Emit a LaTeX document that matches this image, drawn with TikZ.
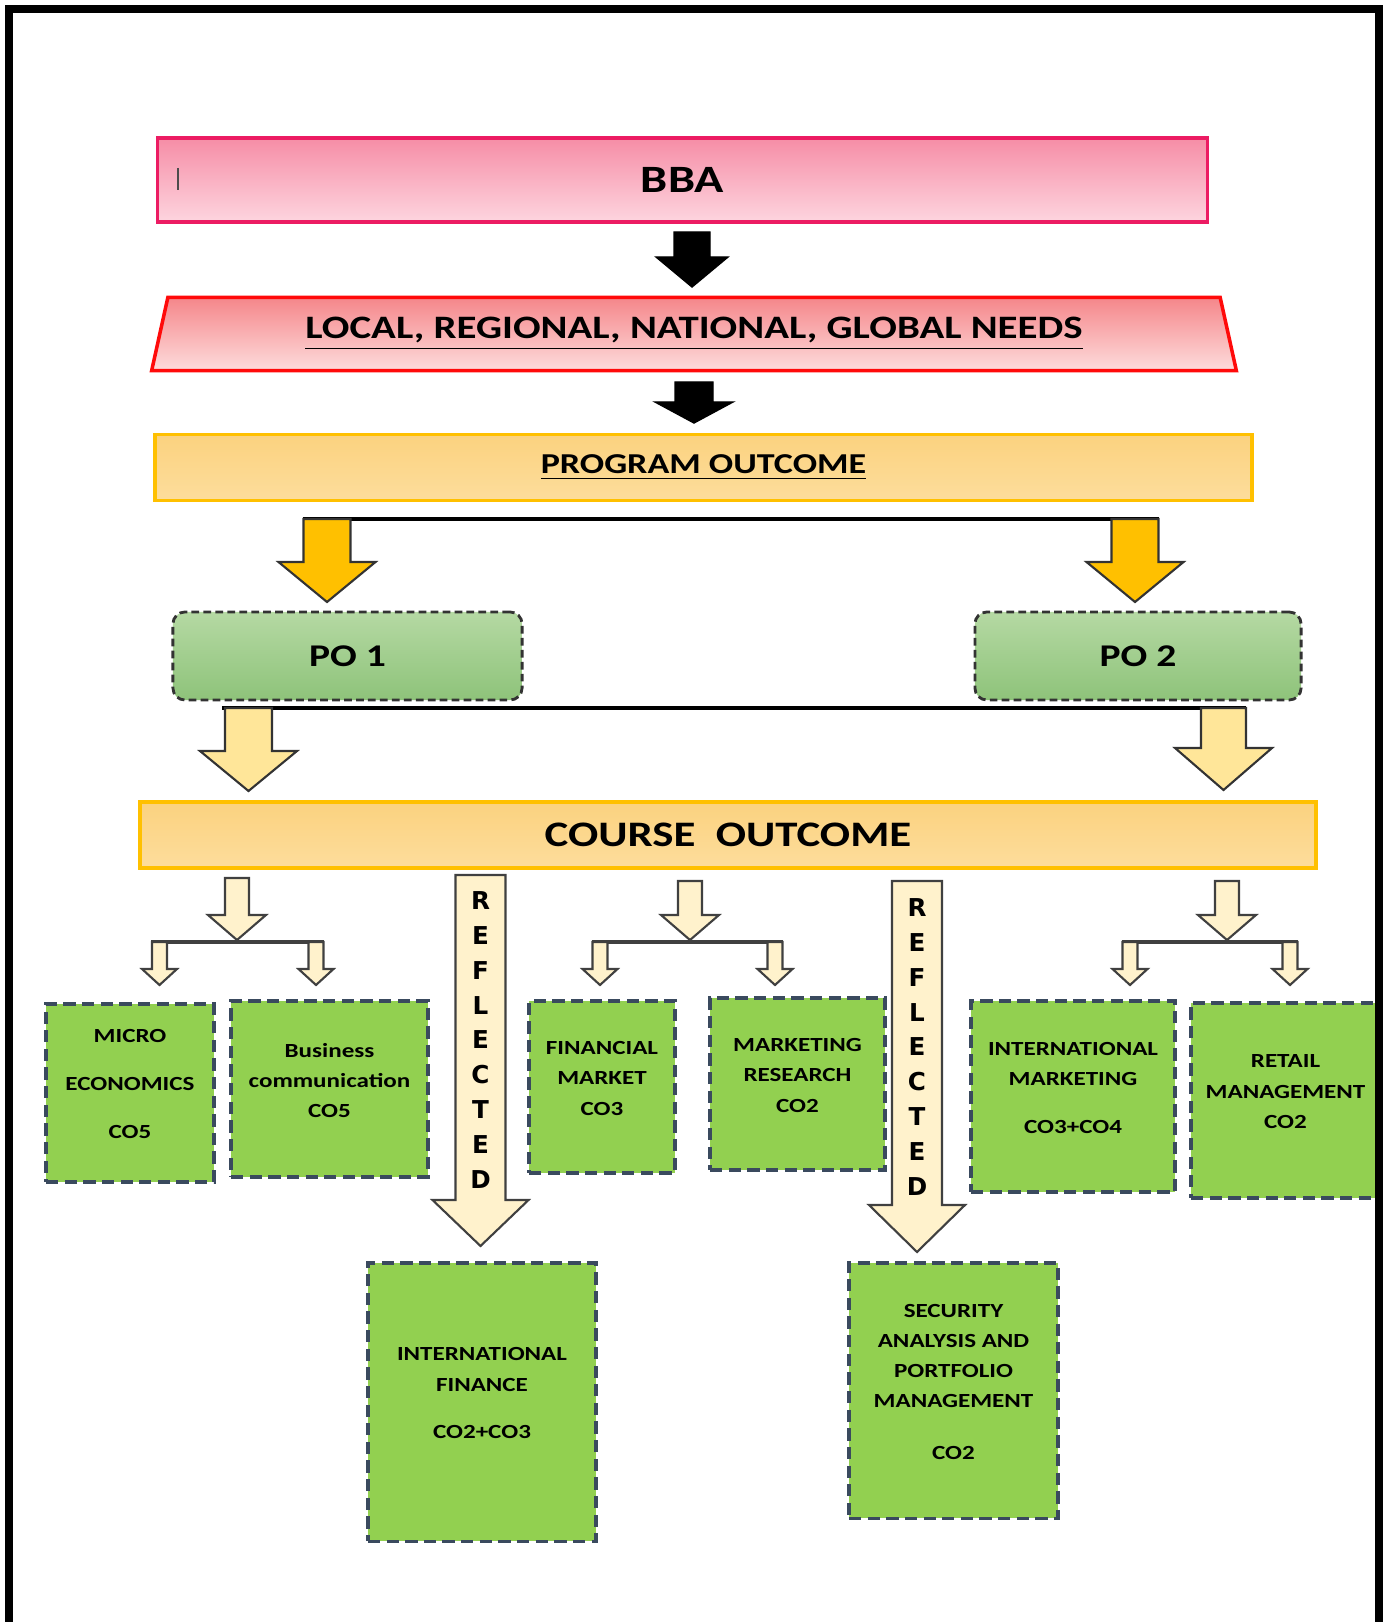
\documentclass[tikz,border=0pt]{standalone}
\usepackage{fontspec}
\setmainfont{Carlito}[FakeStretch=1.25]
\newfontfamily\reflfont{DejaVu Sans}
\usetikzlibrary{shapes.geometric,calc,positioning}

\definecolor{bbaline}{HTML}{EC1C63}
\definecolor{bbatop}{HTML}{F68DA6}
\definecolor{bbabot}{HTML}{FDD5DF}
\definecolor{needline}{HTML}{FF0A0A}
\definecolor{needtop}{HTML}{F5868A}
\definecolor{needbot}{HTML}{FDDCDC}
\definecolor{outtop}{HTML}{FBD27F}
\definecolor{outbot}{HTML}{FDDD9C}
\definecolor{gold}{HTML}{FFC000}
\definecolor{pale}{HTML}{FFE699}
\definecolor{cream}{HTML}{FFF2CC}
\definecolor{potop}{HTML}{B5D9A3}
\definecolor{pobot}{HTML}{8EC37A}
\definecolor{leaf}{HTML}{92D050}
\definecolor{leafline}{HTML}{3A4A5E}

% flecha de bloque hacia abajo: estilo, inicio, punta, medio tallo, media cabeza, largo cabeza
\newcommand\blockarrow[6]{%
  \filldraw[#1] let \p1=(#2), \p2=(#3) in
    (\x1-#4,\y1) -- (\x1+#4,\y1) -- (\x1+#4,\y2+#6) -- (\x1+#5,\y2+#6)
    -- (\x1,\y2) -- (\x1-#5,\y2+#6) -- (\x1-#4,\y2+#6) -- cycle;}

\begin{document}
\begin{tikzpicture}[x=0.01cm, y=-0.01cm,
    bbabox/.style={draw=bbaline, line width=1pt, top color=bbatop, bottom color=bbabot,
      minimum width=10.49cm, minimum height=0.84cm, font=\fontsize{11}{13}\selectfont\bfseries},
    needbox/.style={trapezium, trapezium angle=74, trapezium stretches body, draw=needline,
      line width=1pt, top color=needtop, bottom color=needbot, minimum width=10.84cm,
      minimum height=0.73cm, font=\fontsize{9.3}{11}\selectfont\bfseries},
    outbox/.style={draw=gold, line width=1.1pt, top color=outtop, bottom color=outbot,
      minimum height=0.66cm, font=\fontsize{8.2}{10}\selectfont\bfseries},
    pobox/.style={draw=black!80, line width=0.8pt, dash pattern=on 2.2pt off 1.2pt,
      rounded corners=0.12cm, top color=potop, bottom color=pobot, minimum height=0.88cm,
      font=\fontsize{9}{11}\selectfont\bfseries},
    leafbox/.style={draw=leafline, line width=0.9pt, dash pattern=on 3.5pt off 1.8pt,
      fill=leaf, align=center, inner sep=0pt, text depth=5pt,
      font=\fontsize{5.7}{8.6}\selectfont\bfseries},
    refltext/.style={align=center, inner sep=0pt, font=\reflfont\fontsize{7}{9.9}\selectfont\bfseries},
    bar/.style={line width=1.1pt},
    thinbar/.style={line width=0.9pt, black!75},
    blackarrow/.style={fill=black, draw=black, line width=0.4pt},
    goldarrow/.style={fill=gold, draw=black!80, line width=0.6pt},
    palearrow/.style={fill=pale, draw=black!80, line width=0.6pt},
    creamarrow/.style={fill=cream, draw=black!75, line width=0.6pt}]

    \useasboundingbox (0,0) rectangle (1390,1622);

    % Cajas superiores
    \node[bbabox] (bba) at (682.5,180) {BBA};
    \draw[black!70, line width=0.5pt] (178,168) -- (178,190);
    \node[needbox] (needs) at (694,334) {\underline{LOCAL, REGIONAL, NATIONAL, GLOBAL NEEDS}};
    \node[outbox, minimum width=10.97cm] (prog) at (703.5,467.5) {\underline{PROGRAM OUTCOME}};

    % Flechas negras
    \coordinate (ba1) at (692,232);   \coordinate (ba1tip) at (692,287);
    \coordinate (ba2) at (694,382);   \coordinate (ba2tip) at (694,423);
    \blockarrow{blackarrow}{ba1}{ba1tip}{0.18cm}{0.36cm}{0.30cm}
    \blockarrow{blackarrow}{ba2}{ba2tip}{0.19cm}{0.39cm}{0.21cm}

    % Resultados del programa
    \node[pobox, minimum width=3.49cm] (po1) at (347.5,656) {PO 1};
    \node[pobox, minimum width=3.26cm] (po2) at (1138,656) {PO 2};

    \coordinate (ga1) at (327,519);   \coordinate (ga1tip) at (327,602);
    \coordinate (ga2) at (1135,519);  \coordinate (ga2tip) at (1135,602);
    \draw[bar] ([xshift=-0.235cm]ga1) -- ([xshift=0.235cm]ga2);
    \blockarrow{goldarrow}{ga1}{ga1tip}{0.235cm}{0.485cm}{0.40cm}
    \blockarrow{goldarrow}{ga2}{ga2tip}{0.235cm}{0.485cm}{0.40cm}

    \coordinate (pa1) at (248.5,708); \coordinate (pa1tip) at (248.5,791);
    \coordinate (pa2) at (1223.5,708); \coordinate (pa2tip) at (1223.5,790);
    \draw[bar] ([xshift=-0.265cm]pa1) -- ([xshift=0.225cm]pa2);
    \blockarrow{palearrow}{pa1}{pa1tip}{0.235cm}{0.485cm}{0.40cm}
    \blockarrow{palearrow}{pa2}{pa2tip}{0.225cm}{0.485cm}{0.42cm}

    % Resultado del curso
    \node[outbox, minimum width=11.76cm, font=\fontsize{10.2}{12}\selectfont\bfseries]
        (course) at (728,835) {COURSE~~OUTCOME};

    % Ramas hacia los cursos
    \foreach \g/\c/\l/\r/\t in {a/237/159.5/316/878, b/690/600/775/881, c/1227/1130/1290/881} {
        \coordinate (\g top) at (\c,\t);   \coordinate (\g mid) at (\c,940);
        \coordinate (\g l) at (\l,942);    \coordinate (\g ltip) at (\l,985);
        \coordinate (\g r) at (\r,942);    \coordinate (\g rtip) at (\r,985);
        \draw[thinbar] ([xshift=-0.08cm]\g l) -- ([xshift=0.08cm]\g r);
        \blockarrow{creamarrow}{\g top}{\g mid}{0.12cm}{0.29cm}{0.25cm}
        \blockarrow{creamarrow}{\g l}{\g ltip}{0.075cm}{0.175cm}{0.16cm}
        \blockarrow{creamarrow}{\g r}{\g rtip}{0.075cm}{0.175cm}{0.16cm}
    }

    % Flechas REFLECTED
    \coordinate (rf1) at (480.5,875);  \coordinate (rf1tip) at (480.5,1246);
    \coordinate (rf2) at (917,881);    \coordinate (rf2tip) at (917,1252);
    \blockarrow{creamarrow}{rf1}{rf1tip}{0.25cm}{0.48cm}{0.46cm}
    \blockarrow{creamarrow}{rf2}{rf2tip}{0.25cm}{0.48cm}{0.47cm}
    \node[refltext] (refl1) at (480.5,1040) {R\\E\\F\\L\\E\\C\\T\\E\\D};
    \node[refltext] (refl2) at (917,1047) {R\\E\\F\\L\\E\\C\\T\\E\\D};

    % Cursos
    \node[leafbox, minimum width=1.68cm, minimum height=1.78cm] (micro) at (130,1093) {MICRO\\[5pt]ECONOMICS\\[5pt]CO5};
    \node[leafbox, minimum width=1.97cm, minimum height=1.76cm] (busi) at (329.5,1089) {Business\\communication\\CO5};
    \node[leafbox, minimum width=1.46cm, minimum height=1.72cm] (finmkt) at (602,1087) {FINANCIAL\\MARKET\\CO3};
    \node[leafbox, minimum width=1.75cm, minimum height=1.72cm] (mktres) at (797.5,1084) {MARKETING\\RESEARCH\\CO2};
    \node[leafbox, minimum width=2.04cm, minimum height=1.91cm] (intmkt) at (1073,1096.5) {INTERNATIONAL\\MARKETING\\[5pt]CO3+CO4};
    \node[leafbox, minimum width=1.89cm, minimum height=1.95cm] (retail) at (1285.5,1100.5) {RETAIL\\MANAGEMENT\\CO2};
    \node[leafbox, minimum width=2.28cm, minimum height=2.78cm] (intfin) at (482,1402) {INTERNATIONAL\\FINANCE\\[5pt]CO2+CO3};
    \node[leafbox, minimum width=2.09cm, minimum height=2.55cm] (secur) at (953.5,1390.5) {SECURITY\\ANALYSIS AND\\PORTFOLIO\\MANAGEMENT\\[6pt]CO2};

    % Marco
    \draw[line width=2.3pt] (9,1640) -- (9,9) -- (1379,9) -- (1379,1640);
\end{tikzpicture}
\end{document}
